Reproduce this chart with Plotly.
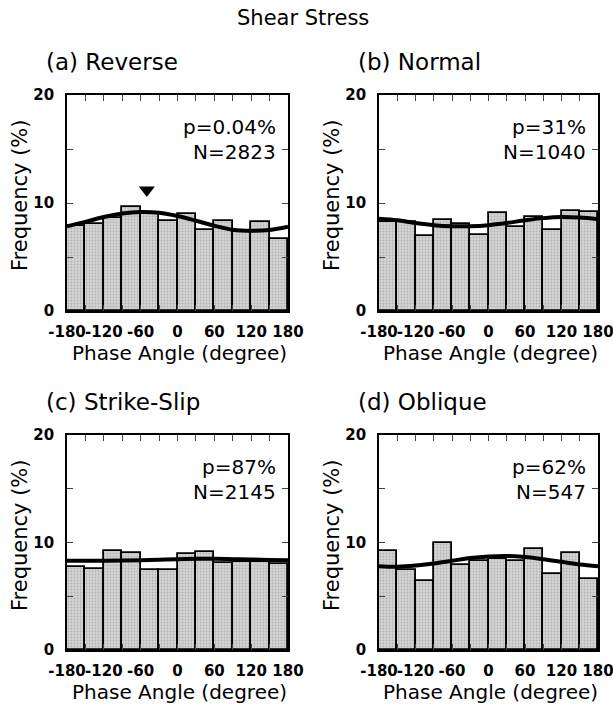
import plotly.graph_objects as go

# ---- data ----
bin_centers = [-165, -135, -105, -75, -45, -15, 15, 45, 75, 105, 135, 165]
curve_x = [-180, -150, -120, -90, -60, -30, 0, 30, 60, 90, 120, 150, 180]

reverse_freq = [7.9, 8.1, 8.6, 9.6, 9.1, 8.35, 8.95, 7.5, 8.3, 7.35, 8.2, 6.7]
reverse_fit = [7.85, 8.25, 8.7, 9.02, 9.17, 9.1, 8.8, 8.36, 7.9, 7.52, 7.42, 7.5, 7.8]

normal_freq = [8.2, 8.25, 6.9, 8.4, 8.05, 7.0, 9.05, 7.8, 8.7, 7.5, 9.25, 9.15]
normal_fit = [8.55, 8.4, 8.15, 7.95, 7.85, 7.85, 7.95, 8.15, 8.4, 8.6, 8.7, 8.65, 8.5]

strike_freq = [7.7, 7.55, 9.25, 9.0, 7.45, 7.45, 8.9, 9.1, 8.05, 8.2, 8.15, 8.0]
strike_fit = [8.3, 8.3, 8.3, 8.32, 8.35, 8.4, 8.45, 8.48, 8.48, 8.45, 8.42, 8.38, 8.35]

oblique_freq = [9.25, 7.4, 6.45, 10.0, 7.9, 8.3, 8.5, 8.3, 9.35, 7.1, 9.0, 6.6]
oblique_fit = [7.8, 7.75, 7.85, 8.05, 8.3, 8.55, 8.7, 8.75, 8.65, 8.45, 8.2, 7.95, 7.8]

titles = ["(a) Reverse", "(b) Normal", "(c) Strike-Slip", "(d) Oblique"]
p_labels = ["p=0.04%", "p=31%", "p=87%", "p=62%"]
n_labels = ["N=2823", "N=1040", "N=2145", "N=547"]
peak_phase = [-50]
peak_level = [11.2]

x_ticks = [-180, -120, -60, 0, 60, 120, 180]
x_tick_text = ["-180", "-120", "-60", "0", "60", "120", "180"]
y_ticks = [0, 10, 20]

FONT = "DejaVu Sans, Liberation Sans, sans-serif"
W, H = 613, 713

freqs = [reverse_freq, normal_freq, strike_freq, oblique_freq]
fits = [reverse_fit, normal_fit, strike_fit, oblique_fit]

# pixel boxes of plot areas (left, right, top, bottom)
boxes = [(67, 288, 95, 311), (379, 598, 95, 311), (67, 288, 435, 650), (379, 598, 435, 650)]

fig = go.Figure()
for i in range(4):
    xa = "x" if i == 0 else f"x{i+1}"
    ya = "y" if i == 0 else f"y{i+1}"
    fig.add_trace(go.Bar(
        x=bin_centers, y=freqs[i], width=30, xaxis=xa, yaxis=ya,
        marker=dict(color="#cccccc", line=dict(color="black", width=1.8),
                    pattern=dict(shape=".", fgcolor="#8f8f8f", bgcolor="#d4d4d4", size=3, solidity=0.3)),
        showlegend=False, hoverinfo="skip"))
    fig.add_trace(go.Scatter(
        x=curve_x, y=fits[i], mode="lines", line=dict(color="black", width=4, shape="spline"),
        xaxis=xa, yaxis=ya, showlegend=False, hoverinfo="skip"))

fig.add_trace(go.Scatter(x=peak_phase, y=peak_level, mode="markers",
                         marker=dict(symbol="triangle-down", size=14, color="black"),
                         xaxis="x", yaxis="y", showlegend=False, hoverinfo="skip"))

layout = dict(width=W, height=H, margin=dict(l=0, r=0, t=0, b=0, autoexpand=False),
              paper_bgcolor="white", plot_bgcolor="white", bargap=0,
              font=dict(family=FONT, color="black"))

annotations = []
annotations.append(dict(text="Shear Stress", x=303 / W, y=1 - 18 / H, xref="paper", yref="paper",
                        showarrow=False, xanchor="center", yanchor="middle",
                        font=dict(size=21, family=FONT)))
for i, (l, r, t, b) in enumerate(boxes):
    k = "" if i == 0 else str(i + 1)
    layout["xaxis" + k] = dict(
        domain=[l / W, r / W], range=[-180, 180], anchor="y" + k,
        tickvals=x_ticks, ticktext=x_tick_text, tickangle=0, automargin=False,
        ticklabeloverflow="allow",
        ticks="inside", ticklen=6, tickwidth=1.2, mirror="ticks",
        showline=True, linecolor="black", linewidth=1.8, showgrid=False, zeroline=False,
        minor=dict(dtick=30, tick0=0, ticks="inside", ticklen=6, tickwidth=1.2),
        tickfont=dict(size=15, family=FONT, weight="bold"), ticklabelstandoff=6)
    layout["yaxis" + k] = dict(
        domain=[1 - b / H, 1 - t / H], range=[0, 20], anchor="x" + k, automargin=False,
        ticklabeloverflow="allow",
        tickvals=y_ticks, ticks="inside", ticklen=6, tickwidth=1.2, mirror="ticks",
        showline=True, linecolor="black", linewidth=1.8, showgrid=False, zeroline=False,
        minor=dict(dtick=5, tick0=0, ticks="inside", ticklen=6, tickwidth=1.2),
        tickfont=dict(size=15, family=FONT, weight="bold"), ticklabelstandoff=8)
    # panel title
    annotations.append(dict(text=titles[i], x=(l - 23) / W, y=1 - (t - 33) / H, xref="paper", yref="paper",
                            showarrow=False, xanchor="left", yanchor="middle",
                            font=dict(size=23, family=FONT)))
    # y title
    annotations.append(dict(text="Frequency (%)", x=(l - 47) / W, y=1 - (t + 100) / H, xref="paper",
                            yref="paper", showarrow=False, textangle=-90, xanchor="center", yanchor="middle",
                            font=dict(size=21, family=FONT)))
    # x title
    annotations.append(dict(text="Phase Angle (degree)", x=((l + r) / 2 + 2) / W, y=1 - (b + 42) / H,
                            xref="paper", yref="paper", showarrow=False, xanchor="center", yanchor="middle",
                            font=dict(size=20, family=FONT)))
    # p and N
    annotations.append(dict(text=p_labels[i], x=(r - 10) / W, y=1 - (t + 32) / H, xref="paper", yref="paper",
                            showarrow=False, xanchor="right", yanchor="middle",
                            font=dict(size=20, family=FONT)))
    annotations.append(dict(text=n_labels[i], x=(r - 10) / W, y=1 - (t + 57) / H, xref="paper", yref="paper",
                            showarrow=False, xanchor="right", yanchor="middle",
                            font=dict(size=20, family=FONT)))

layout["annotations"] = annotations
fig.update_layout(**layout)
fig.write_html("out.html", config={"displayModeBar": False},
               post_script="document.body.style.margin='0';document.body.style.overflow='hidden';")
